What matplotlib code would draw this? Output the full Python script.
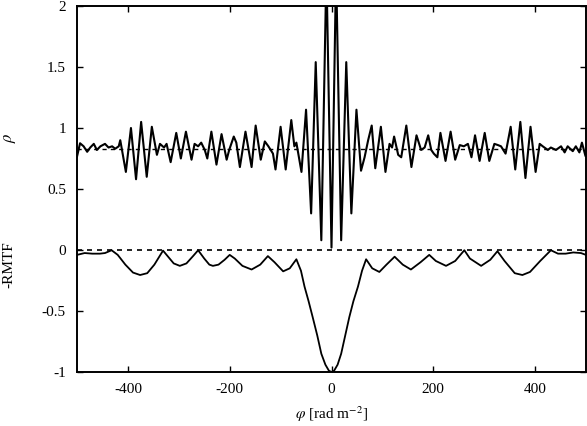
import matplotlib
matplotlib.use("Agg")
import matplotlib.pyplot as plt
from matplotlib.ticker import FixedLocator, FuncFormatter

plt.rcParams['font.family'] = ['Liberation Serif', 'DejaVu Serif']
plt.rcParams['mathtext.fontset'] = 'stix'
plt.rcParams['axes.unicode_minus'] = False

# Faraday dispersion |F(phi)| (rho)
rho_phi = [-500, -494, -487, -480, -474, -467, -461, -454, -445, -438, -431, -425, -418,
           -415, -404, -394, -384, -374, -363, -353, -343, -337, -329, -324, -316, -305,
           -296, -286, -275, -269, -262, -256, -249, -244, -236, -226, -216, -206, -201,
           -192, -187, -180, -169, -157, -149, -139, -131, -124, -115, -110, -100, -90,
           -79, -73, -69, -59, -50, -40, -31, -20, -10, 0, 9, 19, 29, 39, 49, 58, 65, 72,
           79, 86, 97, 106, 114, 119, 123, 131, 137, 147, 157, 167, 176, 183, 190, 196,
           201, 208, 214, 224, 234, 243, 252, 260, 268, 275, 282, 291, 301, 310, 320,
           327, 333, 342, 352, 361, 371, 381, 391, 401, 409, 415, 425, 431, 441, 451,
           458, 464, 474, 480, 487, 492, 499, 500]
rho_val = [0.765, 0.875, 0.85, 0.805, 0.84, 0.87, 0.82, 0.85, 0.87, 0.84, 0.85, 0.83, 0.85,
           0.90, 0.64, 1.00, 0.58, 1.05, 0.60, 1.01, 0.78, 0.87, 0.84, 0.87, 0.72, 0.96,
           0.75, 0.97, 0.74, 0.87, 0.85, 0.88, 0.82, 0.75, 0.97, 0.70, 0.95, 0.74, 0.82,
           0.93, 0.88, 0.68, 0.97, 0.68, 1.02, 0.74, 0.89, 0.85, 0.79, 0.66, 1.01, 0.66,
           1.065, 0.85, 0.88, 0.64, 1.15, 0.30, 1.54, 0.08, 2.30, 0.02, 2.30, 0.08, 1.54,
           0.30, 1.15, 0.65, 0.76, 0.90, 1.02, 0.67, 1.01, 0.64, 0.87, 0.84, 0.93, 0.78,
           0.76, 1.02, 0.68, 0.94, 0.82, 0.84, 0.94, 0.82, 0.79, 0.76, 0.96, 0.73, 0.97,
           0.74, 0.86, 0.85, 0.87, 0.76, 0.94, 0.73, 0.96, 0.73, 0.87, 0.86, 0.85, 0.79,
           1.01, 0.66, 1.05, 0.59, 1.01, 0.64, 0.87, 0.85, 0.82, 0.84, 0.82, 0.85, 0.80,
           0.85, 0.81, 0.85, 0.80, 0.88, 0.77, 0.77]

# -|RMTF|
rmtf_phi = [-500, -485, -470, -455, -445, -432, -420, -405, -390, -376, -362, -348, -331,
            -320, -310, -298, -285, -272, -262, -250, -240, -233, -222, -210, -200, -190,
            -175, -157, -140, -125, -112, -95, -82, -69, -60, -53, -45, -37, -28, -20,
            -12, -5, 0, 5, 12, 19, 27, 35, 43, 52, 60, 68, 80, 94, 108, 124, 140, 156,
            175, 192, 205, 225, 243, 261, 272, 294, 312, 326, 340, 360, 375, 390, 410,
            431, 445, 460, 475, 490, 500]
rmtf_val = [-0.04, -0.025, -0.03, -0.03, -0.025, -0.002, -0.04, -0.12, -0.185, -0.205,
            -0.19, -0.12, -0.005, -0.06, -0.11, -0.13, -0.11, -0.05, -0.002, -0.07, -0.12,
            -0.13, -0.12, -0.08, -0.04, -0.07, -0.13, -0.16, -0.12, -0.05, -0.10, -0.175,
            -0.15, -0.076, -0.17, -0.30, -0.42, -0.55, -0.70, -0.85, -0.94, -0.99, -1.0,
            -0.99, -0.94, -0.85, -0.70, -0.55, -0.42, -0.30, -0.17, -0.076, -0.15, -0.18,
            -0.12, -0.055, -0.12, -0.16, -0.10, -0.04, -0.09, -0.13, -0.09, -0.002, -0.07,
            -0.13, -0.08, -0.01, -0.09, -0.19, -0.205, -0.18, -0.09, -0.002, -0.03, -0.03,
            -0.02, -0.025, -0.04]

noise_level = 0.83
zero_level = 0.0
x_ticks = [-400, -200, 0, 200, 400]
y_ticks = [-1, -0.5, 0, 0.5, 1, 1.5, 2]

W, H = 587, 426
fig = plt.figure(figsize=(W / 100, H / 100), dpi=100)
ax = fig.add_axes([77 / W, 54 / H, (586 - 77) / W, (420 - 54) / H])

ax.plot(rho_phi, rho_val, color='black', lw=1.5, zorder=3)
ax.plot(rmtf_phi, rmtf_val, color='black', lw=1.3, zorder=3)
ax.axhline(noise_level, color='black', lw=1.0, linestyle=(0, (3, 3)), zorder=2)
ax.axhline(zero_level, color='black', lw=1.2, linestyle=(0, (3, 3)), zorder=2)

ax.set_xlim(-500, 500)
ax.set_ylim(-1, 2)
ax.xaxis.set_major_locator(FixedLocator(x_ticks))
ax.yaxis.set_major_locator(FixedLocator(y_ticks))
ax.xaxis.set_major_formatter(FuncFormatter(lambda v, p: f"{v:g}"))
ax.yaxis.set_major_formatter(FuncFormatter(lambda v, p: f"{v:g}"))
ax.tick_params(direction='in', length=4, width=1.0, top=True, right=True,
               labelsize=11, pad=8)
for s in ax.spines.values():
    s.set_linewidth(1.4)

ax.set_xlabel(r'$\varphi$ [rad m$^{-2}$]', fontsize=11, labelpad=6)
fig.text(10 / W, 1 - 138 / H, r'$\rho$', rotation=90, ha='center', va='center', fontsize=12)
fig.text(9 / W, 1 - 265 / H, '-RMTF', rotation=90, ha='center', va='center', fontsize=11)

fig.savefig('out.png', dpi=100)
